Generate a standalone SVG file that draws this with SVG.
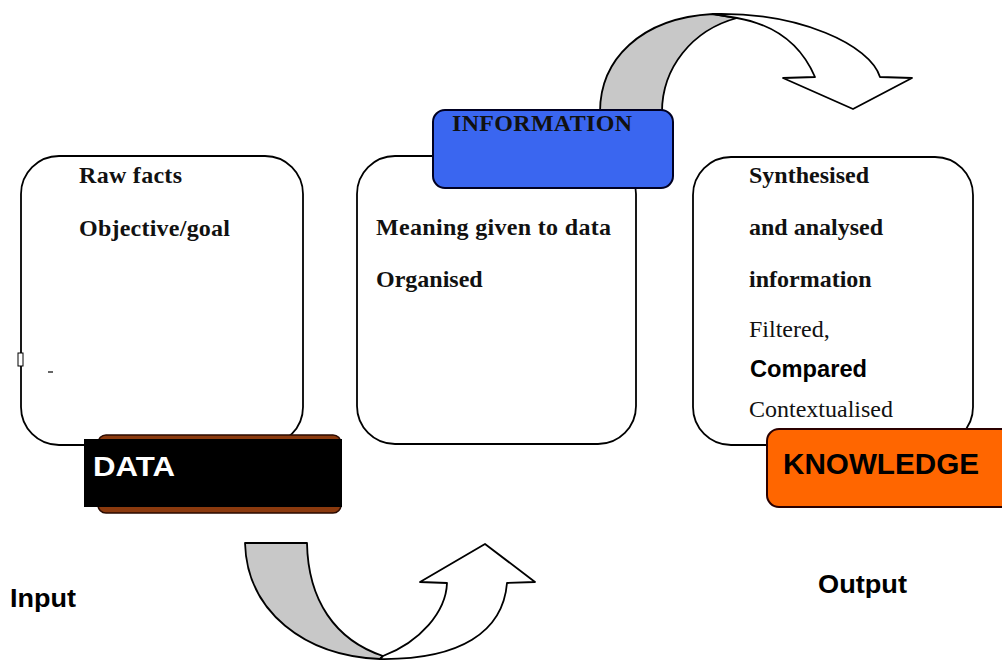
<svg xmlns="http://www.w3.org/2000/svg" width="1002" height="662" viewBox="0 0 1002 662">
<style>
.box{fill:#fff;stroke:#000;stroke-width:1.8}
.ser{font-family:"Liberation Serif","Times New Roman",serif;font-size:24px;font-weight:bold;fill:#111}
.serr{font-family:"Liberation Serif","Times New Roman",serif;font-size:24px;fill:#111}
.sans{font-family:"Liberation Sans",Arial,sans-serif;font-weight:bold}
.arw{stroke:#000;stroke-width:1.8;stroke-linejoin:round}
</style>
<rect width="1002" height="662" fill="#fff"/>
<g id="connectors">
  <g id="arrow-top">
    <path class="arw" fill="#c8c8c8" d="M600,112 C600,60 640,18 713,14 L737,18 C692,30 662,68 662,112 Z"/>
    <path class="arw" fill="#fff" d="M713,14 C800,12 870,45 880,77 L912,78 L853,109 L783,78 L815,77 C800,42 772,24 737,18 Z"/>
  </g>
  <g id="arrow-bottom">
    <path class="arw" fill="#c8c8c8" d="M245,543 L307,543 C308,600 335,640 383,656 L380,659 C305,656 247,612 245,543 Z"/>
    <path class="arw" fill="#fff" d="M383,656 C420,642 446,612 447,583 L420,582 L485,544 L535,582 L507,583 C503,632 460,660 380,659 Z"/>
  </g>
</g>
<g id="data-box">
  <rect class="box" x="21" y="156" width="282" height="289" rx="38"/>
  <rect x="18" y="353" width="5" height="13" fill="#fff" stroke="#000" stroke-width="1"/>
  <line x1="48" y1="372" x2="53" y2="372" stroke="#000" stroke-width="1.2"/>
  <text class="ser" x="79" y="183" textLength="103">Raw facts</text>
  <text class="ser" x="79" y="236" textLength="151">Objective/goal</text>
</g>
<g id="information-box">
  <rect class="box" x="357" y="156" width="279" height="288" rx="38"/>
  <text class="ser" x="376" y="235" textLength="235">Meaning given to data</text>
  <text class="ser" x="376" y="287">Organised</text>
</g>
<g id="knowledge-box">
  <rect class="box" x="693" y="157" width="280" height="288" rx="38"/>
  <text class="ser" x="749" y="183">Synthesised</text>
  <text class="ser" x="749" y="235">and analysed</text>
  <text class="ser" x="749" y="287">information</text>
  <text class="serr" x="749" y="337">Filtered,</text>
  <text class="sans" x="750" y="377" font-size="23" fill="#000" textLength="117" lengthAdjust="spacingAndGlyphs">Compared</text>
  <text class="serr" x="749" y="417">Contextualised</text>
</g>
<g id="data-label">
  <rect x="98" y="435" width="243" height="78" rx="8" fill="#8b3a0e" stroke="#2a0a00" stroke-width="1.5"/>
  <rect x="84" y="439" width="258" height="68" fill="#000"/>
  <text class="sans" x="93" y="476" font-size="28" fill="#fff" textLength="82" lengthAdjust="spacingAndGlyphs">DATA</text>
</g>
<g id="information-label">
  <rect x="433" y="110" width="240" height="78" rx="12" fill="#3a66f0" stroke="#000022" stroke-width="2"/>
  <text class="ser" x="452" y="131" fill="#1a1a5a" textLength="180">INFORMATION</text>
</g>
<g id="knowledge-label">
  <rect x="767" y="429" width="250" height="78" rx="12" fill="#ff6600" stroke="#2a0000" stroke-width="2"/>
  <text class="sans" x="783" y="474" font-size="29" fill="#000" textLength="196" lengthAdjust="spacingAndGlyphs">KNOWLEDGE</text>
</g>
<g id="io-labels">
  <text class="sans" x="10" y="607" font-size="25" fill="#000" textLength="66" lengthAdjust="spacingAndGlyphs">Input</text>
  <text class="sans" x="818" y="593" font-size="26" fill="#000" textLength="89" lengthAdjust="spacingAndGlyphs">Output</text>
</g>
</svg>
